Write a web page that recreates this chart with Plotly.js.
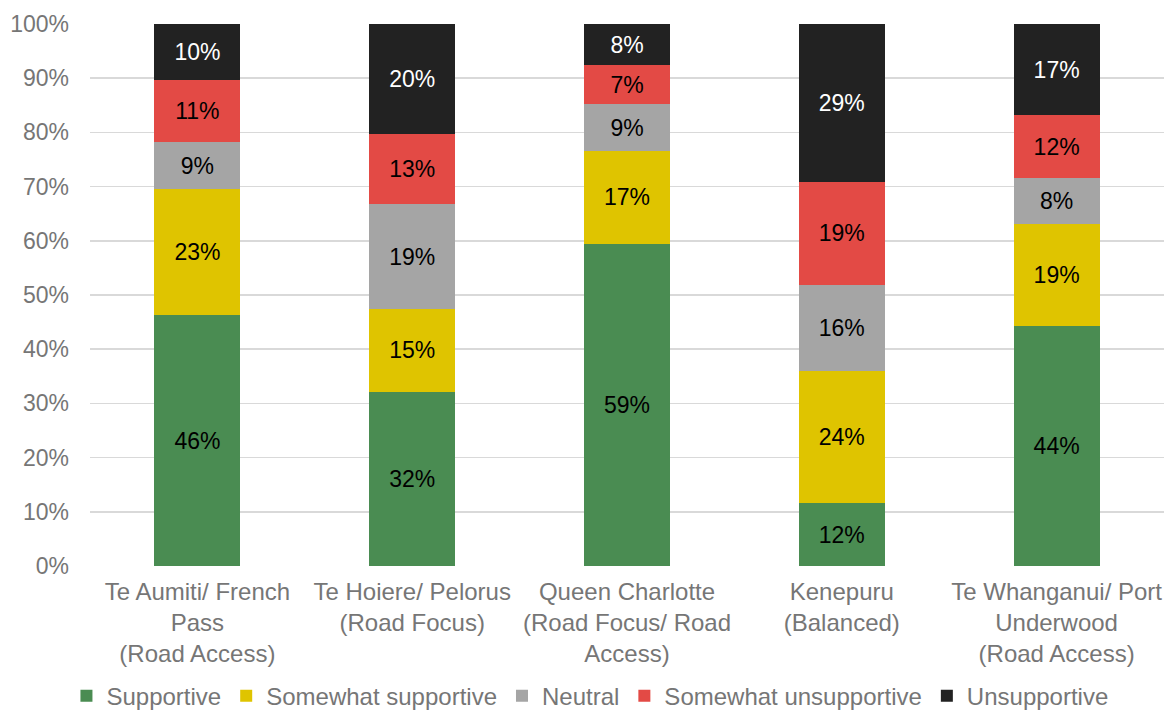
<!DOCTYPE html>
<html>
<head>
<meta charset="utf-8">
<script src="https://cdn.plot.ly/plotly-3.0.1.min.js"></script>
<style>html,body{margin:0;padding:0;background:#fff;}#chart{width:1166px;height:711px;}</style>
</head>
<body>
<div id="chart"></div>
<script>
const categories = [
  "Te Aumiti/ French<br>Pass<br>(Road Access)",
  "Te Hoiere/ Pelorus<br>(Road Focus)",
  "Queen Charlotte<br>(Road Focus/ Road<br>Access)",
  "Kenepuru<br>(Balanced)",
  "Te Whanganui/ Port<br>Underwood<br>(Road Access)"
];
const seriesNames = ["Supportive", "Somewhat supportive", "Neutral", "Somewhat unsupportive", "Unsupportive"];
const supportive = [46.3, 32.1, 59.4, 11.6, 44.3];
const somewhatSupportive = [23.2, 15.4, 17.2, 24.4, 18.8];
const neutral = [8.7, 19.2, 8.6, 15.8, 8.4];
const somewhatUnsupportive = [11.4, 13.0, 7.2, 19.1, 11.7];
const unsupportive = [10.4, 20.3, 7.6, 29.1, 16.8];
const yTickVals = [0, 10, 20, 30, 40, 50, 60, 70, 80, 90, 100];
const yTickText = ["0%", "10%", "20%", "30%", "40%", "50%", "60%", "70%", "80%", "90%", "100%"];

const seriesValues = [supportive, somewhatSupportive, neutral, somewhatUnsupportive, unsupportive];
const colors = ["#4a8c52", "#dfc400", "#a5a5a5", "#e34a45", "#222222"];
const textColors = ["#000000", "#000000", "#000000", "#000000", "#ffffff"];
const FONT = "'Liberation Sans', Arial, sans-serif";
const GREY = "#767676";

const traces = seriesNames.map((name, i) => ({
  type: "bar",
  name: name,
  x: categories,
  y: seriesValues[i],
  marker: {color: colors[i], line: {width: 0}},
  texttemplate: "%{y:.0f}%",
  textposition: "inside",
  insidetextanchor: "middle",
  constraintext: "none",
  textfont: {family: FONT, size: 23, color: textColors[i]},
  hoverinfo: "none"
}));

const layout = {
  width: 1166,
  height: 711,
  barmode: "stack",
  bargap: 0.6,
  paper_bgcolor: "#ffffff",
  plot_bgcolor: "#ffffff",
  font: {family: FONT, size: 23, color: GREY},
  margin: {l: 90, r: 2, t: 24, b: 145, autoexpand: false},
  xaxis: {
    type: "category",
    tickfont: {family: FONT, size: 24, color: GREY},
    showgrid: false,
    showline: false,
    ticks: "",
    ticklabelstandoff: 9
  },
  yaxis: {
    range: [0, 100],
    tickmode: "array",
    tickvals: yTickVals,
    ticktext: yTickText,
    tickfont: {family: FONT, size: 23, color: GREY},
    showgrid: true,
    gridcolor: "#d9d9d9",
    gridwidth: 1.5,
    zeroline: false,
    showline: false,
    ticks: "",
    ticklabelstandoff: 20
  },
  legend: {
    orientation: "h",
    x: 0.4655,
    xanchor: "center",
    y: -0.24,
    yanchor: "middle",
    font: {family: FONT, size: 24, color: GREY},
    traceorder: "normal",
    itemwidth: 30
  },
  showlegend: true
};

Plotly.newPlot("chart", traces, layout, {staticPlot: true, displayModeBar: false});
</script>
</body>
</html>
